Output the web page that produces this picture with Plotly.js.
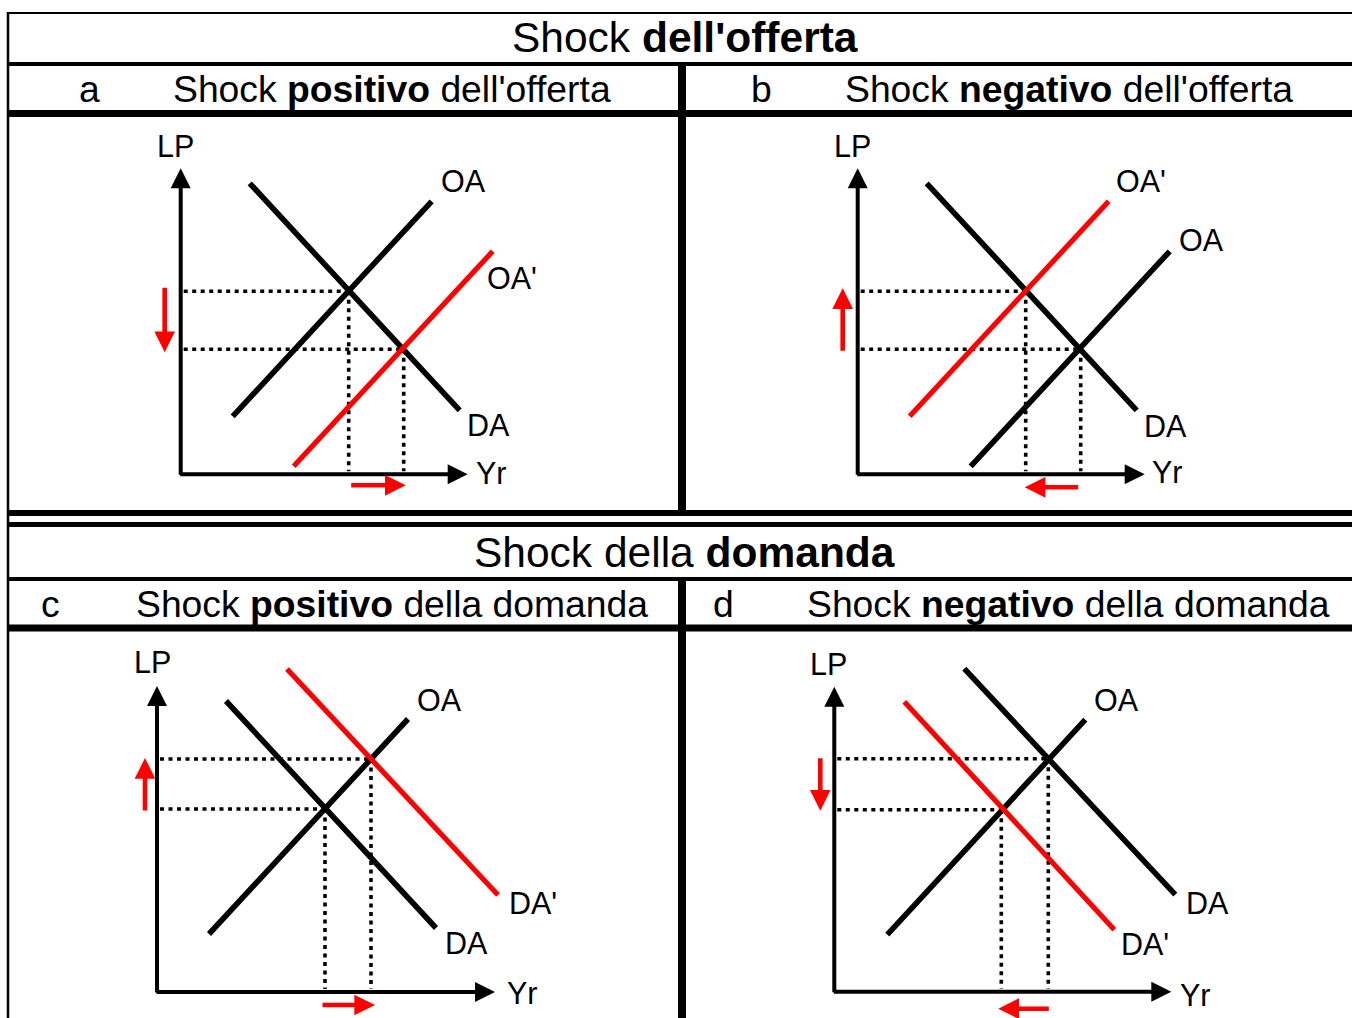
<!DOCTYPE html>
<html><head><meta charset="utf-8">
<script src="https://cdn.plot.ly/plotly-3.0.1.min.js"></script>
<style>html,body{margin:0;padding:0;background:#fff}</style>
</head><body><div id="chart" style="width:1352px;height:1018px"></div>
<script>
// ---------- text ----------
const mainTitles = ["Shock <b>dell'offerta</b>", "Shock della <b>domanda</b>"];
const panelLetters = ["a", "b", "c", "d"];
const panelTitles = [
  "Shock <b>positivo</b> dell'offerta",
  "Shock <b>negativo</b> dell'offerta",
  "Shock <b>positivo</b> della domanda",
  "Shock <b>negativo</b> della domanda"
];

// ---------- panel a : positive supply shock ----------
const A_DA_x = [69, 279],  A_DA_y = [291, 64];
const A_OA_x = [52, 251],  A_OA_y = [58, 273];
const A_OA2_x = [113, 312], A_OA2_y = [8, 223];
const A_eq_x = [168, 223], A_eq_y = [183, 125];
const A_price = [-16, 188, 122];     // x, from, to
const A_output = [-11, 169, 225];    // y, from, to
const A_axisTip = [287, 306];
const A_labels = ["LP", "OA", "OA'", "DA", "Yr"];
const A_lab_x = [-23, 261, 307, 287, 296];
const A_lab_y = [328, 293, 196, 49, 1];

// ---------- panel b : negative supply shock ----------
const B_DA_x = [69, 279],  B_DA_y = [291, 64];
const B_OA_x = [113, 312], B_OA_y = [8, 223];
const B_OA2_x = [52, 251], B_OA2_y = [58, 273];
const B_eq_x = [168, 223], B_eq_y = [183, 125];
const B_price = [-15, 122, 186];
const B_output = [-13, 222, 167];
const B_axisTip = [287, 306];
const B_labels = ["LP", "OA'", "OA", "DA", "Yr"];
const B_lab_x = [-23, 259, 322, 287, 295];
const B_lab_y = [328, 293, 234, 48, 2];

// ---------- panel c : positive demand shock ----------
const C_DA_x = [69, 279],  C_DA_y = [291, 64];
const C_OA_x = [52, 251],  C_OA_y = [58, 273];
const C_DA2_x = [130, 341], C_DA2_y = [323, 97];
const C_eq_x = [168, 214], C_eq_y = [183, 233];
const C_price = [-12, 180, 234];
const C_output = [-13, 164, 218];
const C_axisTip = [338, 306];
const C_labels = ["LP", "OA", "DA'", "DA", "Yr"];
const C_lab_x = [-22, 261, 353, 289, 351];
const C_lab_y = [330, 292, 89, 49, -1];

// ---------- panel d : negative demand shock ----------
const D_DA_x = [130, 341], D_DA_y = [323, 97];
const D_OA_x = [53, 251],  D_OA_y = [57, 272];
const D_DA2_x = [70, 280], D_DA2_y = [290, 62];
const D_eq_x = [214, 167], D_eq_y = [233, 182];
const D_price = [-14, 235, 181];
const D_output = [-17, 216, 164];
const D_axisTip = [337, 305];
const D_labels = ["LP", "OA", "DA", "DA'", "Yr"];
const D_lab_x = [-23, 261, 353, 288, 347];
const D_lab_y = [328, 292, 89, 48, -3];

// ---------- layout constants ----------
const W = 1352, H = 1018;
const BLACK = '#000000', RED = '#ff0000';
const FONT = 'Liberation Sans, Arial, sans-serif';
const origins = [[180.7, 474.3], [857.7, 474.3], [157, 992], [834.3, 991.7]];
const PAD = 3; // annotation box padding compensation (px)

const panels = [
  {black: [[A_DA_x, A_DA_y], [A_OA_x, A_OA_y]], red: [A_OA2_x, A_OA2_y], eqx: A_eq_x, eqy: A_eq_y,
   price: A_price, output: A_output, tip: A_axisTip, labels: A_labels, lx: A_lab_x, ly: A_lab_y},
  {black: [[B_DA_x, B_DA_y], [B_OA_x, B_OA_y]], red: [B_OA2_x, B_OA2_y], eqx: B_eq_x, eqy: B_eq_y,
   price: B_price, output: B_output, tip: B_axisTip, labels: B_labels, lx: B_lab_x, ly: B_lab_y},
  {black: [[C_DA_x, C_DA_y], [C_OA_x, C_OA_y]], red: [C_DA2_x, C_DA2_y], eqx: C_eq_x, eqy: C_eq_y,
   price: C_price, output: C_output, tip: C_axisTip, labels: C_labels, lx: C_lab_x, ly: C_lab_y},
  {black: [[D_DA_x, D_DA_y], [D_OA_x, D_OA_y]], red: [D_DA2_x, D_DA2_y], eqx: D_eq_x, eqy: D_eq_y,
   price: D_price, output: D_output, tip: D_axisTip, labels: D_labels, lx: D_lab_x, ly: D_lab_y}
];

const traces = [];
const annotations = [];
const layout = {
  width: W, height: H,
  margin: {l: 0, r: 0, t: 0, b: 0},
  paper_bgcolor: '#ffffff', plot_bgcolor: 'rgba(0,0,0,0)',
  showlegend: false, hovermode: false,
  font: {family: FONT, color: BLACK}
};

panels.forEach((p, i) => {
  const n = i === 0 ? '' : String(i + 1);
  const xr = 'x' + n, yr = 'y' + n;
  const [ox, oy] = origins[i];
  layout['xaxis' + n] = {domain: [0, 1], range: [-ox, W - ox], visible: false, fixedrange: true, anchor: yr};
  layout['yaxis' + n] = {domain: [0, 1], range: [oy - H, oy], visible: false, fixedrange: true, anchor: xr};

  // dotted guide lines
  const dx = [], dy = [];
  p.eqx.forEach((ex, k) => {
    const ey = p.eqy[k];
    dx.push(3, ex, null, ex, ex, null);
    dy.push(ey, ey, null, ey, 3, null);
  });
  traces.push({x: dx, y: dy, xaxis: xr, yaxis: yr, mode: 'lines', cliponaxis: false,
               line: {color: BLACK, width: 3.6, dash: '4px,4.5px'}});

  // curves
  p.black.forEach(c => traces.push({x: c[0], y: c[1], xaxis: xr, yaxis: yr, mode: 'lines', cliponaxis: false,
                                   line: {color: BLACK, width: 5.6}}));
  traces.push({x: p.red[0], y: p.red[1], xaxis: xr, yaxis: yr, mode: 'lines', cliponaxis: false,
               line: {color: RED, width: 5.2}});

  // axes with arrow heads
  const arrow = (x, y, ax, ay, color, w, s) => ({
    x: x, y: y, ax: ax, ay: ay, xref: xr, yref: yr, axref: xr, ayref: yr, text: '',
    showarrow: true, arrowhead: 2, arrowsize: s, arrowwidth: w, arrowcolor: color, standoff: 0, startstandoff: 0
  });
  annotations.push(arrow(0, p.tip[1], 0, -2, BLACK, 4, 1));
  annotations.push(arrow(p.tip[0], 0, -2, 0, BLACK, 4, 1));
  // shift arrows
  annotations.push(arrow(p.price[0], p.price[2], p.price[0], p.price[1], RED, 4.6, 0.9));
  annotations.push(arrow(p.output[2], p.output[0], p.output[1], p.output[0], RED, 4.6, 0.9));

  // labels
  p.labels.forEach((t, k) => annotations.push({
    x: p.lx[k] - PAD, y: p.ly[k], xref: xr, yref: yr, text: t, showarrow: false,
    xanchor: 'left', yanchor: 'middle', font: {size: 30.5, family: FONT, color: BLACK}
  }));
});

// ---------- table frame ----------
const px = v => v / W, py = v => 1 - v / H;
const hline = (y, w) => ({type: 'line', xref: 'paper', yref: 'paper', x0: px(7), x1: 1, y0: py(y), y1: py(y),
                          line: {color: BLACK, width: w}});
const vline = (x, y0, y1, w) => ({type: 'line', xref: 'paper', yref: 'paper', x0: px(x), x1: px(x), y0: py(y0), y1: py(y1),
                                  line: {color: BLACK, width: w}});
layout.shapes = [
  hline(13, 2), hline(64, 4), hline(113.5, 7),
  hline(513, 6), hline(524.5, 5), hline(579, 4), hline(628, 7),
  vline(8, 12, H, 2.5),
  vline(682, 64, 513, 8), vline(682, 579, H, 8)
];

// ---------- titles ----------
const titleRows = [38, 552];
const subRows = [89, 604];
mainTitles.forEach((t, r) => annotations.push({
  x: px(684.5), y: py(titleRows[r]), xref: 'paper', yref: 'paper', text: t, showarrow: false,
  xanchor: 'center', yanchor: 'middle', font: {size: 42.5, family: FONT, color: BLACK}
}));
const letterLeft = [80, 752, 42, 714];
const subLeft = [174, 846, 137, 808];
panelLetters.forEach((l, i) => {
  const row = subRows[i < 2 ? 0 : 1];
  annotations.push({x: px(letterLeft[i] - PAD), y: py(row), xref: 'paper', yref: 'paper', text: l, showarrow: false,
    xanchor: 'left', yanchor: 'middle', font: {size: 37.3, family: FONT, color: BLACK}});
  annotations.push({x: px(subLeft[i] - PAD), y: py(row), xref: 'paper', yref: 'paper', text: panelTitles[i], showarrow: false,
    xanchor: 'left', yanchor: 'middle', font: {size: 37.3, family: FONT, color: BLACK}});
});
layout.annotations = annotations;

Plotly.newPlot('chart', traces, layout, {staticPlot: true, displayModeBar: false});
</script></body></html>
